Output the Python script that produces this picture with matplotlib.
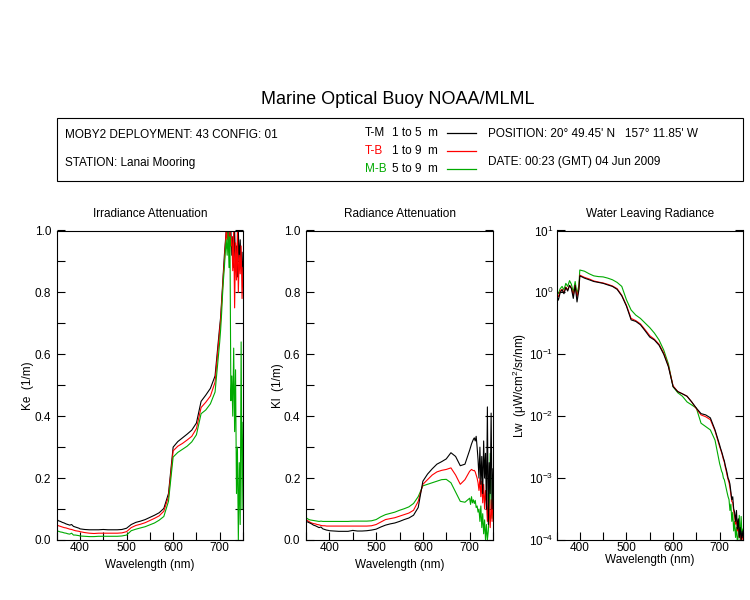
import matplotlib
matplotlib.use("Agg")
import numpy as np
import matplotlib.pyplot as plt
from matplotlib.lines import Line2D
from matplotlib.patches import Rectangle
from matplotlib.ticker import MultipleLocator, LogLocator, NullLocator, LogFormatterMathtext

plt.rcParams['font.family'] = ['Liberation Sans', 'DejaVu Sans']
plt.rcParams['mathtext.fontset'] = 'custom'
plt.rcParams['mathtext.rm'] = 'Liberation Sans'
plt.rcParams['mathtext.it'] = 'Liberation Sans'
plt.rcParams['axes.unicode_minus'] = False
plt.rcParams['font.size'] = 8.5

# wavelength grid (nm): coarse in the middle, finer where the data gets noisy
wl = ([350, 354, 358, 362, 366, 370, 374, 378, 382, 386, 390, 394, 398]
      + list(range(400, 700, 10))
      + list(range(700, 751, 2)))

# Irradiance attenuation Ke (1/m)
ke_tm = [0.067, 0.062, 0.060, 0.057, 0.055, 0.052, 0.050, 0.048, 0.050, 0.044, 0.042, 0.040, 0.038,
         0.036, 0.034, 0.033, 0.033, 0.033, 0.034, 0.033, 0.033, 0.033, 0.034, 0.038, 0.050, 0.057, 0.061,
         0.066, 0.073, 0.080, 0.088, 0.102, 0.150, 0.300, 0.318, 0.330, 0.342, 0.355, 0.378, 0.448, 0.468,
         0.490, 0.530,
         0.690, 0.72, 0.77, 0.82, 0.87, 0.92, 0.96, 1.0, 1.0, 0.98, 1.0, 0.95, 1.0, 0.92, 0.98, 0.88,
         1.0, 0.90, 0.95, 0.85, 1.0, 0.90, 0.97, 0.88, 0.93, 0.85]
ke_tb = [0.048, 0.046, 0.044, 0.042, 0.040, 0.039, 0.037, 0.035, 0.034, 0.032, 0.030, 0.029, 0.028,
         0.027, 0.024, 0.022, 0.021, 0.022, 0.022, 0.022, 0.022, 0.022, 0.023, 0.027, 0.040, 0.047, 0.051,
         0.056, 0.063, 0.070, 0.078, 0.093, 0.140, 0.288, 0.303, 0.312, 0.323, 0.335, 0.360, 0.428, 0.445,
         0.465, 0.510,
         0.675, 0.71, 0.76, 0.81, 0.86, 0.90, 0.95, 1.0, 0.97, 1.0, 0.93, 1.0, 0.95, 0.98, 0.87, 1.0,
         0.75, 0.96, 0.84, 1.0, 0.80, 0.92, 0.86, 0.95, 0.78, 0.88]
ke_mb = [0.030, 0.028, 0.026, 0.025, 0.023, 0.022, 0.020, 0.019, 0.022, 0.016, 0.016, 0.015, 0.014,
         0.013, 0.012, 0.011, 0.011, 0.012, 0.012, 0.012, 0.012, 0.012, 0.013, 0.016, 0.030, 0.035, 0.039,
         0.043, 0.049, 0.055, 0.064, 0.076, 0.125, 0.268, 0.283, 0.293, 0.303, 0.317, 0.340, 0.408, 0.420,
         0.440, 0.478,
         0.640, 0.68, 0.73, 0.79, 0.84, 0.88, 0.93, 0.97, 0.92, 1.0, 0.88, 0.98, 0.45, 0.53, 0.40, 0.62,
         0.35, 0.55, 0.15, 0.30, 0.00, 0.25, 0.05, 0.64, 0.10, 0.38]

# Radiance attenuation Kl (1/m)
kl_tm = [0.060, 0.058, 0.055, 0.052, 0.048, 0.046, 0.043, 0.040, 0.042, 0.036, 0.034, 0.032, 0.031,
         0.030, 0.029, 0.028, 0.028, 0.028, 0.031, 0.029, 0.029, 0.030, 0.032, 0.035, 0.042, 0.048, 0.052,
         0.055, 0.060, 0.066, 0.071, 0.080, 0.105, 0.190, 0.213, 0.230, 0.245, 0.253, 0.262, 0.282, 0.270,
         0.240, 0.245,
         0.290, 0.300, 0.310, 0.318, 0.325, 0.330, 0.320, 0.335, 0.300, 0.260, 0.200, 0.300, 0.180, 0.270,
         0.150, 0.320, 0.200, 0.280, 0.100, 0.430, 0.050, 0.250, 0.150, 0.410, 0.100, 0.230]
kl_tb = [0.066, 0.062, 0.058, 0.055, 0.053, 0.052, 0.050, 0.049, 0.047, 0.046, 0.046, 0.045, 0.045,
         0.045, 0.045, 0.045, 0.045, 0.045, 0.045, 0.045, 0.045, 0.045, 0.046, 0.050, 0.058, 0.066, 0.069,
         0.072, 0.077, 0.082, 0.087, 0.096, 0.125, 0.180, 0.195, 0.210, 0.220, 0.225, 0.228, 0.233, 0.210,
         0.180, 0.195,
         0.222, 0.225, 0.228, 0.226, 0.224, 0.225, 0.220, 0.210, 0.200, 0.185, 0.160, 0.200, 0.140, 0.190,
         0.120, 0.180, 0.100, 0.160, 0.120, 0.060, 0.150, 0.090, 0.040, 0.130, 0.060, 0.150]
kl_mb = [0.072, 0.068, 0.065, 0.064, 0.063, 0.062, 0.061, 0.060, 0.061, 0.060, 0.060, 0.060, 0.060,
         0.060, 0.060, 0.060, 0.060, 0.060, 0.061, 0.061, 0.061, 0.061, 0.062, 0.066, 0.075, 0.082, 0.086,
         0.090, 0.096, 0.101, 0.107, 0.118, 0.140, 0.175, 0.180, 0.185, 0.190, 0.195, 0.196, 0.185, 0.155,
         0.125, 0.122,
         0.135, 0.115, 0.140, 0.120, 0.130, 0.118, 0.128, 0.105, 0.110, 0.090, 0.100, 0.060, 0.110, 0.040,
         0.085, 0.020, 0.065, 0.000, 0.050, 0.000, 0.030, 0.100, 0.280, 0.120, 0.070, 0.170]

# Water leaving radiance Lw (uW/cm^2/sr/nm)
lw_tm = [0.90, 0.75, 1.00, 1.10, 0.95, 1.20, 1.05, 1.30, 1.15, 0.80, 1.30, 0.70, 1.10,
         1.85, 1.70, 1.60, 1.50, 1.45, 1.40, 1.32, 1.25, 1.12, 0.88, 0.60, 0.36, 0.34, 0.30,
         0.24, 0.19, 0.17, 0.14, 0.10, 0.063, 0.030, 0.025, 0.023, 0.021, 0.017, 0.0135, 0.011, 0.0105,
         0.0094, 0.0060,
         0.0034, 0.0030, 0.0027, 0.0024, 0.0021, 0.0019, 0.0016, 0.0014, 0.0012, 0.0010, 0.00092, 0.00080,
         0.00060, 0.00045, 0.00050, 0.00032, 0.00028, 0.00020, 0.00030, 0.00015, 0.00022, 0.00011,
         0.00016, 0.00010, 0.00014, 0.00011]
lw_tb = [0.95, 0.85, 1.05, 1.12, 1.00, 1.22, 1.10, 1.30, 1.18, 0.90, 1.30, 0.85, 1.15,
         1.90, 1.75, 1.65, 1.53, 1.47, 1.42, 1.35, 1.27, 1.15, 0.90, 0.62, 0.38, 0.35, 0.31,
         0.25, 0.20, 0.175, 0.145, 0.105, 0.065, 0.031, 0.025, 0.023, 0.021, 0.017, 0.0132, 0.0105, 0.0098,
         0.0088, 0.0058,
         0.0032, 0.0029, 0.0026, 0.0023, 0.0020, 0.0018, 0.0015, 0.0013, 0.0011, 0.00095, 0.00085, 0.00070,
         0.00055, 0.00042, 0.00040, 0.00030, 0.00024, 0.00018, 0.00022, 0.00014, 0.00018, 0.00011,
         0.00013, 0.00010, 0.00012, 0.00010]
lw_mb = [1.05, 0.95, 1.15, 1.25, 1.10, 1.40, 1.25, 1.55, 1.35, 1.00, 1.50, 0.95, 1.30,
         2.30, 2.20, 2.00, 1.85, 1.80, 1.78, 1.70, 1.60, 1.45, 1.25, 0.76, 0.52, 0.43, 0.38,
         0.32, 0.27, 0.22, 0.17, 0.117, 0.070, 0.030, 0.024, 0.021, 0.017, 0.0152, 0.0135, 0.0077, 0.0068,
         0.0060, 0.0041,
         0.0017, 0.0015, 0.0013, 0.0012, 0.0010, 0.00094, 0.00080, 0.00068, 0.00058, 0.00050, 0.00045,
         0.00030, 0.00038, 0.00020, 0.00028, 0.00014, 0.00020, 0.00011, 0.00016, 0.00009, 0.00012,
         0.00025, 0.00010, 0.00024, 0.00011, 0.00015]

BLACK, RED, GREEN = 'black', '#ff0000', '#00aa00'
W, H = 750, 600


def fx(x):
    return x / W


def fy(y):
    return 1 - y / H


fig = plt.figure(figsize=(7.5, 6), dpi=100)

# ---- header ----
fig.text(fx(398), fy(100), 'Marine Optical Buoy NOAA/MLML', ha='center', va='center', fontsize=13)
fig.add_artist(Rectangle((fx(56.5), fy(181)), fx(743) - fx(56.5), fy(118) - fy(181),
                         transform=fig.transFigure, fill=False, lw=0.8, ec='black'))
fig.text(fx(65), fy(135), 'MOBY2 DEPLOYMENT: 43 CONFIG: 01', va='center')
fig.text(fx(65), fy(163), 'STATION: Lanai Mooring', va='center')
fig.text(fx(488), fy(134), "POSITION: 20\u00b0 49.45' N   157\u00b0 11.85' W", va='center')
fig.text(fx(488), fy(162), 'DATE: 00:23 (GMT) 04 Jun 2009', va='center')

legend_rows = [('T-M', '1 to 5  m', BLACK, 133), ('T-B', '1 to 9  m', RED, 151), ('M-B', '5 to 9  m', GREEN, 169)]
for tag, rng, col, y in legend_rows:
    fig.text(fx(365), fy(y), tag, color=col, va='center')
    fig.text(fx(392), fy(y), rng, va='center')
    fig.add_artist(Line2D([fx(447), fx(476)], [fy(y), fy(y)], color=col, lw=0.9,
                          transform=fig.transFigure))

# ---- panels ----
bottom, height = fy(540), fy(230.5) - fy(540)
ax1 = fig.add_axes([fx(56.7), bottom, fx(243) - fx(56.7), height])
ax2 = fig.add_axes([fx(306), bottom, fx(493) - fx(306), height])
ax3 = fig.add_axes([fx(556.5), bottom, fx(743) - fx(556.5), height])

for y, col in [(ke_tm, BLACK), (ke_tb, RED), (ke_mb, GREEN)]:
    ax1.plot(wl, y, color=col, lw=0.8)
for y, col in [(kl_mb, GREEN), (kl_tb, RED), (kl_tm, BLACK)]:
    ax2.plot(wl, y, color=col, lw=0.8)
for y, col in [(lw_mb, GREEN), (lw_tb, RED), (lw_tm, BLACK)]:
    ax3.plot(wl, y, color=col, lw=0.8)

titles = ['Irradiance Attenuation', 'Radiance Attenuation', 'Water Leaving Radiance']
ylabels = ['Ke  (1/m)', 'Kl  (1/m)', 'Lw  (\u03bcW/cm$^2$/sr/nm)']
for ax, t, yl in zip([ax1, ax2, ax3], titles, ylabels):
    ax.set_xlim(350, 750)
    ax.set_title(t, fontsize=8.5, pad=10)
    ax.set_ylabel(yl)
    ax.xaxis.set_minor_locator(MultipleLocator(50))
    ax.set_xticks([400, 500, 600, 700])
    ax.tick_params(which='both', direction='in', length=6, width=0.8, right=True, top=False)
    ax.tick_params(axis='x', pad=1.5)
    for s in ax.spines.values():
        s.set_linewidth(0.8)
    ax.set_xlabel('Wavelength (nm)')

for ax in [ax1, ax2]:
    ax.set_ylim(0, 1)
    ax.yaxis.set_major_locator(MultipleLocator(0.2))
    ax.yaxis.set_minor_locator(MultipleLocator(0.1))
    ax.yaxis.set_major_formatter(matplotlib.ticker.FormatStrFormatter('%.1f'))
    ax.tick_params(axis='y', pad=4)
    ax.yaxis.set_label_coords(-0.12, 0.5)
    ax.xaxis.set_label_coords(0.5, -0.06)

ax3.set_yscale('log')
ax3.set_ylim(1e-4, 10)
ax3.yaxis.set_major_locator(LogLocator(base=10, numticks=10))
ax3.yaxis.set_minor_locator(NullLocator())
ax3.yaxis.set_major_formatter(LogFormatterMathtext())
ax3.tick_params(axis='y', pad=2)
ax3.yaxis.set_label_coords(-0.15, 0.5)
ax3.xaxis.set_label_coords(0.5, -0.046)

fig.savefig('out.png', dpi=100)
